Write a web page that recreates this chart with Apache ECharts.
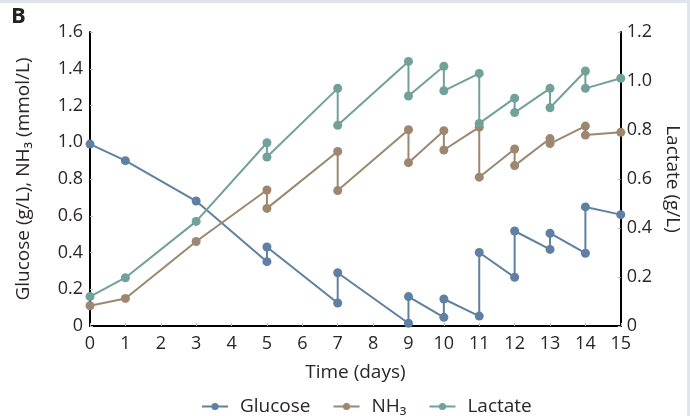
<!DOCTYPE html>
<html>
<head>
<meta charset="utf-8">
<script src="https://cdn.jsdelivr.net/npm/echarts@6/dist/echarts.min.js"></script>
<style>
  html, body { margin: 0; padding: 0; background: #fff; }
  #chart { width: 690px; height: 416px; }
</style>
</head>
<body>
<div id="chart"></div>
<script>
// days (feed days appear twice: before / after feeding)
const days = [0, 1, 3, 5, 5, 7, 7, 9, 9, 10, 10, 11, 11, 12, 12, 13, 13, 14, 14, 15];
const glucose = [0.99, 0.90, 0.68, 0.35, 0.43, 0.125, 0.29, 0.015, 0.16, 0.047, 0.147, 0.054, 0.40, 0.265, 0.517, 0.417, 0.505, 0.396, 0.648, 0.606];
const nh3 = [0.11, 0.15, 0.46, 0.74, 0.64, 0.95, 0.737, 1.068, 0.889, 1.063, 0.958, 1.082, 0.81, 0.963, 0.873, 1.02, 0.993, 1.088, 1.039, 1.054];
const lactate = [0.12, 0.197, 0.427, 0.748, 0.69, 0.97, 0.819, 1.08, 0.939, 1.06, 0.96, 1.031, 0.827, 0.93, 0.871, 0.97, 0.891, 1.041, 0.97, 1.011];
const seriesNames = ['Glucose', 'NH\u2083', 'Lactate'];
const colors = ['#5f80a2', '#9d8770', '#72a09a'];

function pairs(vals) {
  return days.map((d, i) => [d, vals[i]]);
}
function fmt(v) {
  return v === 0 ? '0' : v.toFixed(1);
}

const txt = '#2a2627';
const font = 'Open Sans';

let chartDom = document.getElementById('chart');
let myChart = echarts.init(chartDom, null, { renderer: 'canvas' });

let option = {
  backgroundColor: '#fff',
  animation: false,
  textStyle: { fontFamily: font, color: txt },
  graphic: [
    { type: 'rect', left: 0, top: 0, shape: { width: 690, height: 3 }, style: { fill: '#dfe5ea' } },
    { type: 'rect', right: 0, top: 0, shape: { width: 3, height: 416 }, style: { fill: '#dfe5ea' } },
    { type: 'text', left: 11, top: 6, style: { text: 'B', fontSize: 22, fontWeight: 'bold', fontFamily: font, fill: '#222' } }
  ],
  grid: { left: 90, right: 68, top: 32, bottom: 90 },
  legend: {
    left: 196,
    top: 392,
    itemWidth: 26,
    itemHeight: 9,
    itemGap: 22,
    textStyle: { fontSize: 19, color: txt, fontFamily: font, padding: [0, 0, 0, 7] },
    data: seriesNames
  },
  xAxis: {
    type: 'value',
    min: 0,
    max: 15,
    interval: 1,
    name: 'Time (days)',
    nameLocation: 'middle',
    nameGap: 37,
    nameTextStyle: { fontSize: 19, color: txt, fontFamily: font },
    axisLine: { lineStyle: { color: '#000', width: 2 } },
    axisTick: { inside: true, length: 3, lineStyle: { color: '#bbb' } },
    axisLabel: { fontSize: 18, color: txt, margin: 9 },
    splitLine: { show: false }
  },
  yAxis: [
    {
      type: 'value',
      position: 'left',
      min: 0,
      max: 1.6,
      interval: 0.2,
      name: 'Glucose (g/L), NH\u2083 (mmol/L)',
      nameLocation: 'middle',
      nameGap: 57,
      nameTextStyle: { fontSize: 19, color: txt, fontFamily: font },
      axisLine: { show: true, lineStyle: { color: '#000', width: 2 } },
      axisTick: { show: true, inside: true, length: 3, lineStyle: { color: '#bbb' } },
      axisLabel: { fontSize: 18, color: txt, margin: 7, formatter: fmt },
      splitLine: { show: false }
    },
    {
      type: 'value',
      position: 'right',
      min: 0,
      max: 1.2,
      interval: 0.2,
      name: 'Lactate (g/L)',
      nameLocation: 'middle',
      nameRotate: -90,
      nameGap: 39,
      nameTextStyle: { fontSize: 19, color: txt, fontFamily: font },
      axisLine: { show: true, lineStyle: { color: '#000', width: 2 } },
      axisTick: { show: true, inside: true, length: 3, lineStyle: { color: '#bbb' } },
      axisLabel: { fontSize: 18, color: txt, margin: 6, formatter: fmt },
      splitLine: { show: false }
    }
  ],
  series: [
    {
      name: seriesNames[0],
      type: 'line',
      yAxisIndex: 0,
      data: pairs(glucose),
      symbol: 'circle',
      symbolSize: 9,
      color: colors[0],
      lineStyle: { width: 2 }
    },
    {
      name: seriesNames[1],
      type: 'line',
      yAxisIndex: 0,
      data: pairs(nh3),
      symbol: 'circle',
      symbolSize: 9,
      color: colors[1],
      lineStyle: { width: 2 }
    },
    {
      name: seriesNames[2],
      type: 'line',
      yAxisIndex: 1,
      data: pairs(lactate),
      symbol: 'circle',
      symbolSize: 9,
      color: colors[2],
      lineStyle: { width: 2 }
    }
  ]
};

option && myChart.setOption(option);
</script>
</body>
</html>
